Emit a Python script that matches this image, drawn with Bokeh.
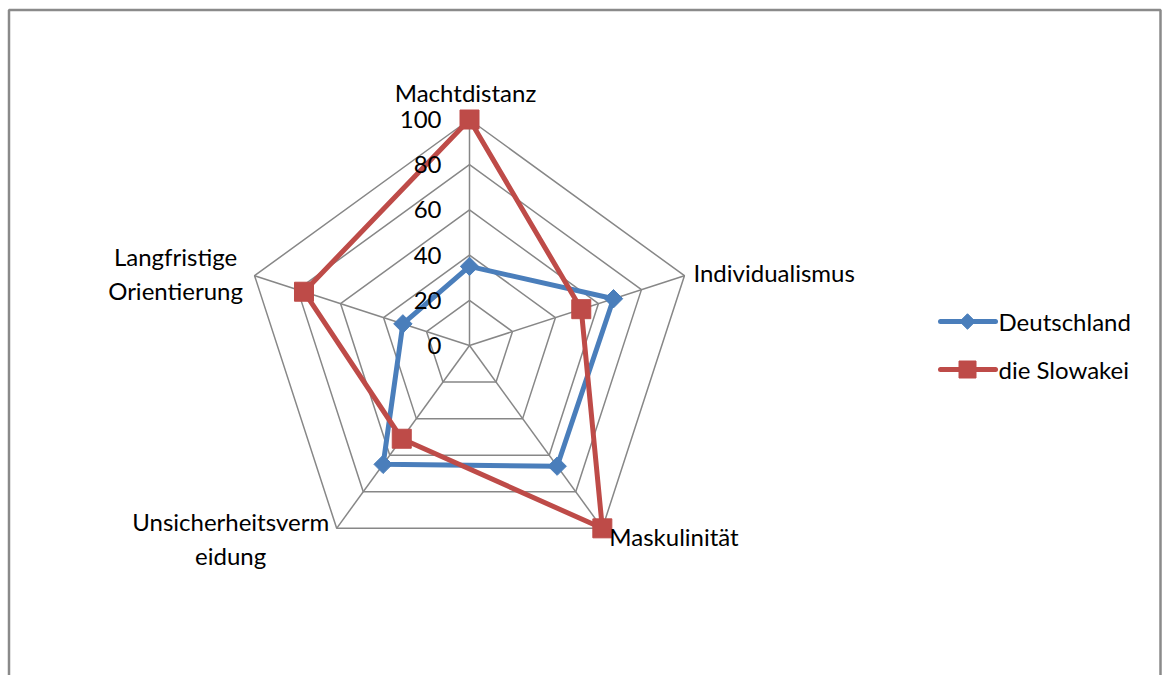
import numpy as np
from bokeh.plotting import figure
from bokeh.models import Range1d
from bokeh.core.properties import value
from bokeh.embed import file_html
from bokeh.resources import INLINE

# ---------------- data ----------------
categories = ["Machtdistanz", "Individualismus", "Maskulinität",
              "Unsicherheitsvermeidung", "Langfristige Orientierung"]
category_labels = ["Machtdistanz", "Individualismus", "Maskulinität",
                   "Unsicherheitsverm\neidung", "Langfristige\nOrientierung"]
series_names = ["Deutschland", "die Slowakei"]
deutschland = [35, 67, 66, 65, 31]
slowakei = [100, 52, 100, 51, 77]
tick_values = [0, 20, 40, 60, 80, 100]
tick_labels = ["0", "20", "40", "60", "80", "100"]

# ---------------- layout ----------------
W, H = 1168, 675
CX, CY = 469, 345          # radar centre in pixels
R = 226                    # pixels for the max value
VMAX = 100
S = R / VMAX               # pixels per unit

FONT = "Lato"
FS = "24px"
GRID = "#878787"
BLUE = "#4A7EBB"
RED = "#BE4B48"


def px(x, y):
    """pixel position -> data coordinates (for decorations only)"""
    return (x - CX) / S, (CY - y) / S


p = figure(width=W, height=H, output_backend="svg", toolbar_location=None,
           x_range=Range1d(-CX / S, (W - CX) / S),
           y_range=Range1d(-(H - CY) / S, CY / S),
           x_axis_type=None, y_axis_type=None, min_border=0)
p.grid.visible = False
p.outline_line_color = None
p.background_fill_color = "white"

n = len(categories)
theta = np.pi / 2 - 2 * np.pi * np.arange(n) / n
cos_t, sin_t = np.cos(theta), np.sin(theta)

# outer chart border (decoration)
bx, by = zip(*[px(8.5, 720), px(8.5, 9.5), px(1160, 9.5), px(1160, 720)])
p.line(list(bx), list(by), line_color="#8a8a8a", line_width=2.5)

# grid rings
ring_xs, ring_ys = [], []
for v in tick_values[1:]:
    ring_xs.append(list(v * cos_t) + [v * cos_t[0]])
    ring_ys.append(list(v * sin_t) + [v * sin_t[0]])
p.multi_line(ring_xs, ring_ys, line_color=GRID, line_width=1.5)

# spokes
spoke_xs = [[0, VMAX * c] for c in cos_t]
spoke_ys = [[0, VMAX * s_] for s_ in sin_t]
p.multi_line(spoke_xs, spoke_ys, line_color=GRID, line_width=1.5)

# series
def xy(vals):
    vals = np.asarray(vals, dtype=float)
    return vals * cos_t, vals * sin_t

dx, dy = xy(deutschland)
p.line(list(dx) + [dx[0]], list(dy) + [dy[0]], line_color=BLUE, line_width=5,
       line_join="round")
p.scatter(dx, dy, marker="square", angle=np.pi / 4, size=13,
          fill_color=BLUE, line_color=BLUE)

sx, sy = xy(slowakei)
p.line(list(sx) + [sx[0]], list(sy) + [sy[0]], line_color=RED, line_width=5,
       line_join="round")
p.scatter(sx, sy, marker="square", size=19, fill_color=RED, line_color=RED)

# tick labels
p.text(x=[0] * len(tick_values), y=tick_values, text=tick_labels,
       x_offset=-28, text_align="right", text_baseline="middle",
       text_font=value(FONT), text_font_size=FS, text_color="black")

# category labels
label_offsets = [(-4, -27, "center"), (9, -3, "left"), (7, 8, "left"),
                 (-106, 10, "center"), (-79, -2, "center")]
for i, lab in enumerate(category_labels):
    ox, oy, al = label_offsets[i]
    p.text(x=[VMAX * cos_t[i]], y=[VMAX * sin_t[i]], text=[lab],
           x_offset=ox, y_offset=oy, text_align=al, text_baseline="middle",
           text_font=value(FONT), text_font_size=FS, text_color="black",
           text_line_height=1.15)

# legend (drawn by hand)
legend_colors = [BLUE, RED]
legend_rows = [321, 369]
for name, col, ry in zip(series_names, legend_colors, legend_rows):
    (lx0, ly), (lx1, _) = px(940, ry), px(995, ry)
    p.line([lx0, lx1], [ly, ly], line_color=col, line_width=5, line_cap="round")
    mx, my = px(967, ry)
    if col == BLUE:
        p.scatter([mx], [my], marker="square", angle=np.pi / 4, size=11,
                  fill_color=col, line_color=col)
    else:
        p.scatter([mx], [my], marker="square", size=17, fill_color=col, line_color=col)
    tx, ty = px(998, ry)
    p.text(x=[tx], y=[ty], text=[name], text_align="left", text_baseline="middle",
           text_font=value(FONT), text_font_size=FS, text_color="black")

open("out.html", "w").write(file_html(p, INLINE))
